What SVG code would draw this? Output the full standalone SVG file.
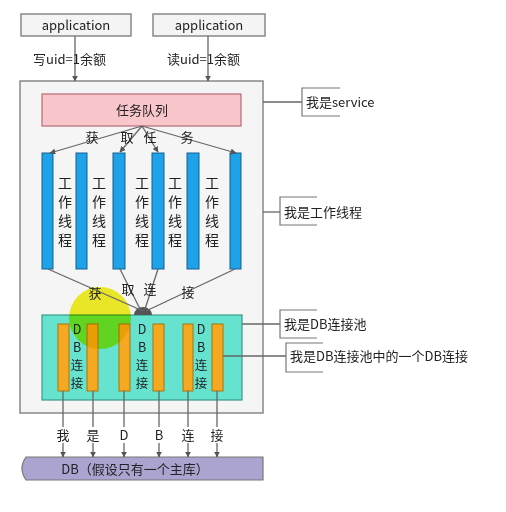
<svg xmlns="http://www.w3.org/2000/svg" width="506" height="512" viewBox="0 0 506 512">
<defs>
<marker id="ah" viewBox="0 0 10 10" refX="9" refY="5" markerWidth="6" markerHeight="6" orient="auto" markerUnits="userSpaceOnUse">
<path d="M0,0 L10,5 L0,10 z" fill="#555"/>
</marker>
</defs>
<style>
text{font-family:"Noto Sans CJK SC","Liberation Sans",sans-serif;fill:#222;}
.app{fill:#f4f4f4;stroke:#888;stroke-width:1.5;}
.lbl{font-size:13px;}
.ln{stroke:#666;stroke-width:1.3;fill:none;}
.arr{stroke:#666;stroke-width:1.3;fill:none;marker-end:url(#ah);}
.thr{fill:#1ea2e8;stroke:#155f8e;stroke-width:1;}
.orb{fill:#f6a820;stroke:#a87410;stroke-width:1;}
.vt{font-size:14px;text-anchor:middle;}
.vd{font-size:12.5px;text-anchor:middle;}
.br{stroke:#777;stroke-width:1.2;fill:none;}
</style>
<rect width="506" height="512" fill="#fff"/>

<g id="app1">
<rect class="app" x="21" y="14" width="110" height="22"/>
<text x="76" y="30" text-anchor="middle" style="font-size:13px">application</text>
</g>
<g id="app2">
<rect class="app" x="153" y="14" width="112" height="22"/>
<text x="209" y="30" text-anchor="middle" style="font-size:13px">application</text>
</g>

<g id="service">
<rect x="20" y="81" width="243" height="332" fill="#f5f5f5" stroke="#888" stroke-width="1.5"/>
</g>

<g id="queue">
<rect x="42" y="94" width="199" height="32" fill="#f9c6cc" stroke="#b86a76" stroke-width="1.2"/>
<text x="142" y="115" text-anchor="middle" class="lbl">任务队列</text>
</g>

<g id="threads">
<rect class="thr" x="42" y="153" width="11" height="116"/>
<rect class="thr" x="76" y="153" width="11" height="116"/>
<rect class="thr" x="113" y="153" width="12" height="116"/>
<rect class="thr" x="152" y="153" width="12" height="116"/>
<rect class="thr" x="187" y="153" width="12" height="116"/>
<rect class="thr" x="230" y="153" width="11" height="116"/>
<text class="vt" x="65" y="188">工</text><text class="vt" x="65" y="207">作</text><text class="vt" x="65" y="226">线</text><text class="vt" x="65" y="245">程</text>
<text class="vt" x="99" y="188">工</text><text class="vt" x="99" y="207">作</text><text class="vt" x="99" y="226">线</text><text class="vt" x="99" y="245">程</text>
<text class="vt" x="142" y="188">工</text><text class="vt" x="142" y="207">作</text><text class="vt" x="142" y="226">线</text><text class="vt" x="142" y="245">程</text>
<text class="vt" x="175" y="188">工</text><text class="vt" x="175" y="207">作</text><text class="vt" x="175" y="226">线</text><text class="vt" x="175" y="245">程</text>
<text class="vt" x="212" y="188">工</text><text class="vt" x="212" y="207">作</text><text class="vt" x="212" y="226">线</text><text class="vt" x="212" y="245">程</text>
</g>

<g id="pool">
<rect x="42" y="315" width="200" height="85" fill="#66e3cf" stroke="#3a9a8a" stroke-width="1.2"/>
<path d="M134,315 A9,8 0 0 1 152,315 z" fill="#555"/>
<rect class="orb" x="58" y="324" width="11" height="67"/>
<rect class="orb" x="87" y="324" width="11" height="67"/>
<rect class="orb" x="119" y="324" width="11" height="67"/>
<rect class="orb" x="153" y="324" width="11" height="67"/>
<rect class="orb" x="183" y="324" width="10" height="67"/>
<rect class="orb" x="212" y="324" width="11" height="67"/>
<text class="vd" x="77" y="334">D</text><text class="vd" x="77" y="352">B</text><text class="vd" x="77" y="370">连</text><text class="vd" x="77" y="388">接</text>
<text class="vd" x="142" y="334">D</text><text class="vd" x="142" y="352">B</text><text class="vd" x="142" y="370">连</text><text class="vd" x="142" y="388">接</text>
<text class="vd" x="201" y="334">D</text><text class="vd" x="201" y="352">B</text><text class="vd" x="201" y="370">连</text><text class="vd" x="201" y="388">接</text>
</g>

<g id="db">
<path d="M26,457 L263,457 L263,480 L26,480 Q18,468.5 26,457 z" fill="#aba4d0" stroke="#777" stroke-width="1.2"/>
<text x="135" y="474" text-anchor="middle" class="lbl">DB（假设只有一个主库）</text>
</g>

<g id="highlight">
<circle cx="100" cy="318" r="31" fill="#f2ee10" opacity="0.9" style="mix-blend-mode:multiply"/>
</g>

<g id="connectors">
<line class="arr" x1="75" y1="36" x2="75" y2="81"/>
<line class="arr" x1="208" y1="36" x2="208" y2="81"/>
<text x="33" y="64" class="lbl">写uid=1余额</text>
<text x="167" y="64" class="lbl">读uid=1余额</text>

<line class="arr" x1="142" y1="126" x2="50" y2="153"/>
<line class="arr" x1="142" y1="126" x2="120" y2="152"/>
<line class="arr" x1="142" y1="126" x2="158" y2="152"/>
<line class="arr" x1="142" y1="126" x2="236" y2="153"/>
<text x="92" y="142" class="lbl" text-anchor="middle">获</text>
<text x="127" y="142" class="lbl" text-anchor="middle">取</text>
<text x="150" y="142" class="lbl" text-anchor="middle">任</text>
<text x="187" y="142" class="lbl" text-anchor="middle">务</text>

<line class="ln" x1="48" y1="269" x2="143" y2="311"/>
<line class="ln" x1="120" y1="269" x2="140" y2="309"/>
<line class="ln" x1="158" y1="269" x2="145" y2="309"/>
<line class="ln" x1="235" y1="269" x2="146" y2="311"/>
<text x="95" y="298" class="lbl" text-anchor="middle">获</text>
<text x="128" y="294" class="lbl" text-anchor="middle">取</text>
<text x="150" y="294" class="lbl" text-anchor="middle">连</text>
<text x="188" y="297" class="lbl" text-anchor="middle">接</text>

<line class="arr" x1="63" y1="391" x2="63" y2="457"/>
<line class="arr" x1="93" y1="391" x2="93" y2="457"/>
<line class="arr" x1="124" y1="391" x2="124" y2="457"/>
<line class="arr" x1="159" y1="391" x2="159" y2="457"/>
<line class="arr" x1="188" y1="391" x2="188" y2="457"/>
<line class="arr" x1="217" y1="391" x2="217" y2="457"/>
<rect x="55" y="427" width="176" height="16" fill="#fff"/>
<text x="63" y="440" class="lbl" text-anchor="middle">我</text>
<text x="93" y="440" class="lbl" text-anchor="middle">是</text>
<text x="124" y="440" class="lbl" text-anchor="middle">D</text>
<text x="159" y="440" class="lbl" text-anchor="middle">B</text>
<text x="188" y="440" class="lbl" text-anchor="middle">连</text>
<text x="217" y="440" class="lbl" text-anchor="middle">接</text>

<line class="ln" x1="263" y1="102" x2="302" y2="102"/>
<path class="br" d="M340,88 H302 V116 H340"/>
<line class="ln" x1="263" y1="212" x2="280" y2="212"/>
<path class="br" d="M317,197 H280 V225 H317"/>
<line class="ln" x1="242" y1="324" x2="280" y2="324"/>
<path class="br" d="M317,310 H280 V338 H317"/>
<line class="ln" x1="223" y1="356" x2="286" y2="356"/>
<path class="br" d="M323,343 H286 V372 H323"/>
</g>

<g id="callouts">
<text x="306" y="107" class="lbl">我是service</text>
<text x="284" y="217" class="lbl">我是工作线程</text>
<text x="284" y="329" class="lbl">我是DB连接池</text>
<text x="290" y="361" class="lbl">我是DB连接池中的一个DB连接</text>
</g>
</svg>
